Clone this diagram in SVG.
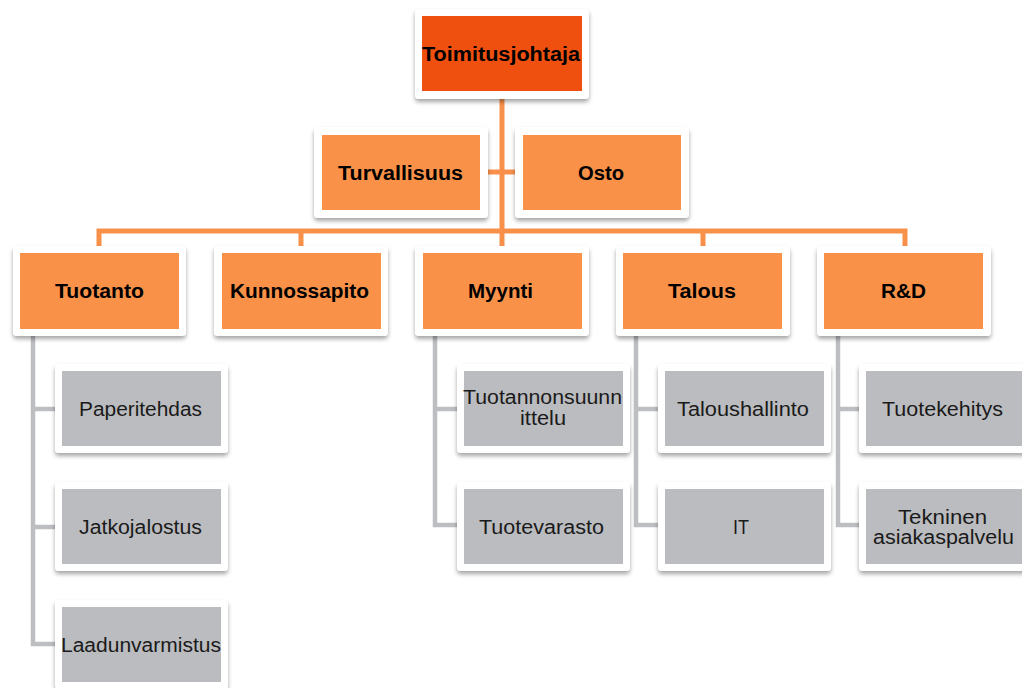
<svg xmlns="http://www.w3.org/2000/svg" width="1022" height="688" viewBox="0 0 1022 688">
<defs>
<filter id="sh" x="-10%" y="-15%" width="120%" height="140%">
<feDropShadow dx="0" dy="3" stdDeviation="2.2" flood-color="#000" flood-opacity="0.35"/>
</filter>
<style>
.card{fill:#fff;filter:url(#sh)}
.top{fill:#F0500F}
.org{fill:#FA9148}
.gry{fill:#BBBCBF}
.bt{font-family:"Liberation Sans",Arial,sans-serif;font-weight:bold;font-size:19.5px;fill:#000;text-anchor:middle}
.rt{font-family:"Liberation Sans",Arial,sans-serif;font-size:20px;fill:#1a1a1a;text-anchor:middle}
.oc{fill:none;stroke:#F9904A;stroke-width:5}
.gc{fill:none;stroke:#BDBEC1;stroke-width:4.5}
</style>
</defs>
<rect width="1022" height="688" fill="#fff"/>
<g id="connectors">
<path class="oc" d="M502,95 V248"/>
<path class="oc" d="M484,172 H519"/>
<path class="oc" d="M99,248 V231 H905 V248"/>
<path class="oc" d="M301,231 V248 M703,231 V248"/>
<path class="gc" d="M33,334 V644 H57 M33,409 H57 M33,527 H57"/>
<path class="gc" d="M435,334 V525 H459 M435,409 H459"/>
<path class="gc" d="M636,334 V525 H660 M636,409 H660"/>
<path class="gc" d="M838,334 V525 H861 M838,409 H861"/>
</g>
<g id="n-toimitusjohtaja"><rect class="card" x="415" y="9" width="174" height="90" rx="4"/><rect class="top" x="422" y="16" width="160" height="75"/><text class="bt" x="501" y="60.5" textLength="158" lengthAdjust="spacingAndGlyphs">Toimitusjohtaja</text></g>
<g id="n-turvallisuus"><rect class="card" x="314" y="127" width="174" height="91" rx="4"/><rect class="org" x="322" y="135" width="158" height="75"/><text class="bt" x="400.5" y="179.5" textLength="125" lengthAdjust="spacingAndGlyphs">Turvallisuus</text></g>
<g id="n-osto"><rect class="card" x="515" y="127" width="174" height="91" rx="4"/><rect class="org" x="523" y="135" width="158" height="75"/><text class="bt" x="601" y="179.5" textLength="46" lengthAdjust="spacingAndGlyphs">Osto</text></g>
<g id="n-tuotanto"><rect class="card" x="13" y="246" width="173" height="90" rx="4"/><rect class="org" x="20" y="253" width="159" height="76"/><text class="bt" x="99.5" y="297.5" textLength="89" lengthAdjust="spacingAndGlyphs">Tuotanto</text></g>
<g id="n-kunnossapito"><rect class="card" x="214" y="246" width="174" height="90" rx="4"/><rect class="org" x="222" y="253" width="159" height="76"/><text class="bt" x="299.5" y="297.5" textLength="139" lengthAdjust="spacingAndGlyphs">Kunnossapito</text></g>
<g id="n-myynti"><rect class="card" x="415" y="246" width="174" height="90" rx="4"/><rect class="org" x="423" y="253" width="159" height="76"/><text class="bt" x="500.5" y="297.5" textLength="65" lengthAdjust="spacingAndGlyphs">Myynti</text></g>
<g id="n-talous"><rect class="card" x="616" y="246" width="174" height="90" rx="4"/><rect class="org" x="623" y="253" width="159" height="76"/><text class="bt" x="702" y="297.5" textLength="68" lengthAdjust="spacingAndGlyphs">Talous</text></g>
<g id="n-rd"><rect class="card" x="817" y="246" width="174" height="90" rx="4"/><rect class="org" x="824" y="253" width="159" height="76"/><text class="bt" x="903.5" y="297.5" textLength="45" lengthAdjust="spacingAndGlyphs">R&amp;D</text></g>
<g id="n-paperitehdas"><rect class="card" x="55" y="364" width="173" height="89" rx="4"/><rect class="gry" x="62" y="371" width="159" height="75"/><text class="rt" x="140.5" y="416" textLength="123" lengthAdjust="spacingAndGlyphs">Paperitehdas</text></g>
<g id="n-jatkojalostus"><rect class="card" x="55" y="482" width="173" height="89" rx="4"/><rect class="gry" x="62" y="489" width="159" height="75"/><text class="rt" x="140.5" y="534" textLength="123" lengthAdjust="spacingAndGlyphs">Jatkojalostus</text></g>
<g id="n-laadunvarmistus"><rect class="card" x="55" y="600" width="173" height="89" rx="4"/><rect class="gry" x="62" y="607" width="159" height="75"/><text class="rt" x="141" y="652" textLength="160" lengthAdjust="spacingAndGlyphs">Laadunvarmistus</text></g>
<g id="n-tuotannonsuunnittelu"><rect class="card" x="457" y="364" width="173" height="89" rx="4"/><rect class="gry" x="464" y="371" width="159" height="75"/><text class="rt" x="542.5" y="404" textLength="159" lengthAdjust="spacingAndGlyphs">Tuotannonsuunn</text><text class="rt" x="543" y="425" textLength="46" lengthAdjust="spacingAndGlyphs">ittelu</text></g>
<g id="n-tuotevarasto"><rect class="card" x="457" y="482" width="173" height="89" rx="4"/><rect class="gry" x="464" y="489" width="159" height="75"/><text class="rt" x="541.5" y="534" textLength="125" lengthAdjust="spacingAndGlyphs">Tuotevarasto</text></g>
<g id="n-taloushallinto"><rect class="card" x="658" y="364" width="173" height="89" rx="4"/><rect class="gry" x="665" y="371" width="159" height="75"/><text class="rt" x="743" y="416" textLength="132" lengthAdjust="spacingAndGlyphs">Taloushallinto</text></g>
<g id="n-it"><rect class="card" x="658" y="482" width="173" height="89" rx="4"/><rect class="gry" x="665" y="489" width="159" height="75"/><text class="rt" x="741" y="534" textLength="16" lengthAdjust="spacingAndGlyphs">IT</text></g>
<g id="n-tuotekehitys"><rect class="card" x="859" y="364" width="173" height="89" rx="4"/><rect class="gry" x="866" y="371" width="159" height="75"/><text class="rt" x="942.5" y="416" textLength="121" lengthAdjust="spacingAndGlyphs">Tuotekehitys</text></g>
<g id="n-tekninen"><rect class="card" x="859" y="482" width="173" height="89" rx="4"/><rect class="gry" x="866" y="489" width="159" height="75"/><text class="rt" x="942.5" y="523.5" textLength="89" lengthAdjust="spacingAndGlyphs">Tekninen</text><text class="rt" x="943.5" y="544" textLength="141" lengthAdjust="spacingAndGlyphs">asiakaspalvelu</text></g>
</svg>
